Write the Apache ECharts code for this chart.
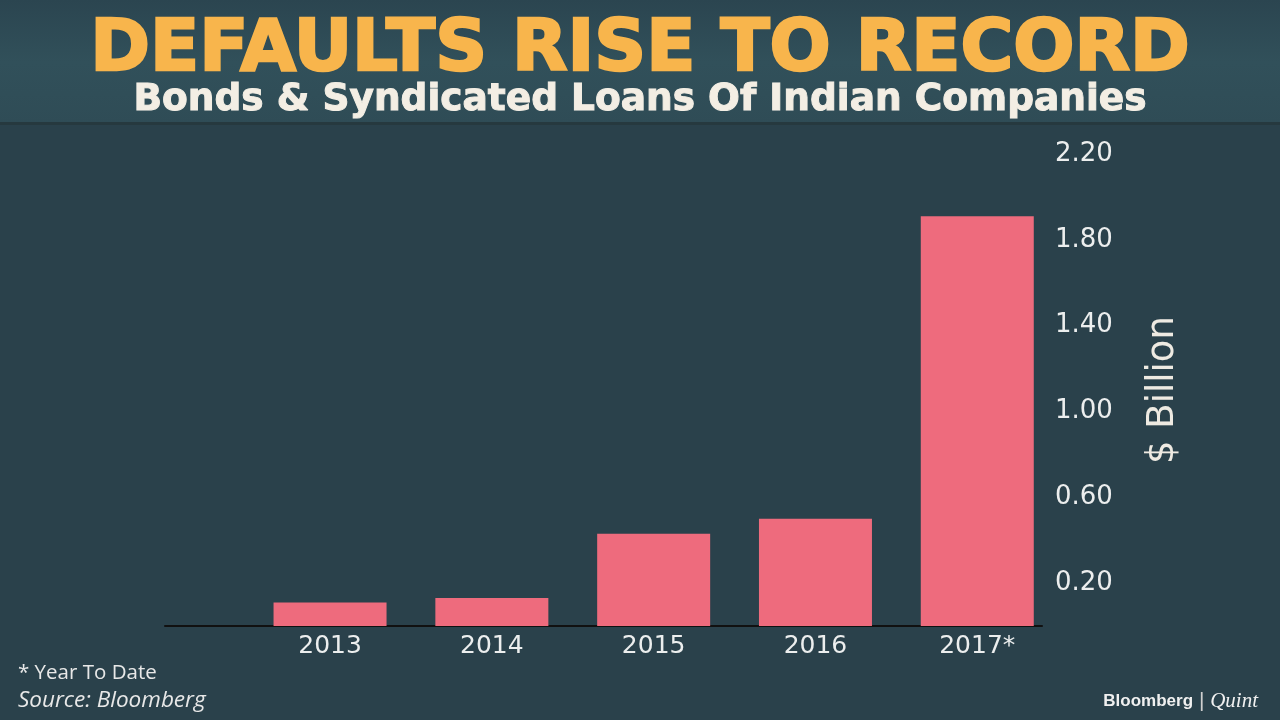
<!DOCTYPE html>
<html>
<head>
<meta charset="utf-8">
<script src="https://cdn.jsdelivr.net/npm/echarts@6/dist/echarts.min.js"></script>
<style>
html,body{margin:0;padding:0;background:#2a414b;}
#chart{width:1280px;height:720px;}
</style>
</head>
<body>
<div id="chart"></div>
<script>
const categories = ['2013', '2014', '2015', '2016', '2017*'];
const years = [2013, 2014, 2015, 2016, 2017];
const values = [0.11, 0.13, 0.43, 0.50, 1.91];
const yTickLabels = [0.2, 0.6, 1.0, 1.4, 1.8, 2.2];

const chart = echarts.init(document.getElementById('chart'));
const seriesData = years.map((y, i) => [y, values[i]]);

chart.setOption({
  backgroundColor: '#2a414b',
  animation: false,
  graphic: [
    { type: 'rect', left: 0, top: 0, z: -10, shape: { width: 1280, height: 124 },
      style: { fill: new echarts.graphic.LinearGradient(0, 0, 0, 1, [
        { offset: 0, color: '#2b4550' }, { offset: 0.5, color: '#31505a' }, { offset: 1, color: '#2f4c56' }]) } },
    { type: 'rect', left: 0, top: 122, z: -9, shape: { width: 1280, height: 3 }, style: { fill: '#26393f' } },
    { type: 'text', left: 'center', top: 14, z: 10,
      style: { text: 'DEFAULTS RISE TO RECORD', fill: '#f8b54c', font: 'bold 72px "DejaVu Sans"',
        stroke: '#f8b54c', lineWidth: 2.5,
        shadowColor: 'rgba(0,0,0,0.55)', shadowBlur: 4, shadowOffsetX: 2, shadowOffsetY: 3 } },
    { type: 'text', left: 'center', top: 81, z: 10,
      style: { text: 'Bonds & Syndicated Loans Of Indian Companies', fill: '#f3eee4', font: 'bold 37.5px "DejaVu Sans"',
        stroke: '#f3eee4', lineWidth: 1,
        shadowColor: 'rgba(0,0,0,0.5)', shadowBlur: 3, shadowOffsetX: 1, shadowOffsetY: 2 } },
    { type: 'text', left: 18, top: 663,
      style: { text: '* Year To Date', fill: '#e8e8e8', font: '20.5px "Open Sans"' } },
    { type: 'text', left: 18, top: 689,
      style: { text: 'Source: Bloomberg', fill: '#e8e8e8', font: 'italic 22.5px "Open Sans"' } },
    { type: 'text', right: 22, top: 691,
      style: {
        text: '{a|Bloomberg}{b| | }{c|Quint}',
        rich: {
          a: { fill: '#f0f0f0', font: 'bold 17px "Liberation Sans"' },
          b: { fill: '#cfcfcf', font: '21px "Liberation Sans"' },
          c: { fill: '#f0f0f0', font: 'italic 21px "Liberation Serif"' }
        }
      } }
  ],
  grid: { left: 165, right: 238, top: 154, bottom: 94 },
  xAxis: {
    type: 'value',
    min: 2011.98,
    max: 2017.4,
    axisLine: { show: true, onZero: false, lineStyle: { color: '#111', width: 2 } },
    axisTick: { show: false },
    splitLine: { show: false },
    axisLabel: {
      customValues: years,
      margin: 8,
      color: '#eceeee',
      fontSize: 25,
      fontFamily: 'DejaVu Sans',
      formatter: v => categories[years.indexOf(Math.round(v))] || ''
    }
  },
  yAxis: {
    type: 'value',
    position: 'right',
    min: 0,
    max: 2.2,
    axisLine: { show: false },
    axisTick: { show: false },
    splitLine: { show: false },
    name: '$ Billion',
    nameLocation: 'middle',
    nameRotate: 90,
    nameGap: 103,
    nameTextStyle: { color: '#eeeae2', fontSize: 37, fontFamily: 'DejaVu Sans' },
    axisLabel: {
      customValues: yTickLabels,
      margin: 13,
      color: '#eceeee',
      fontSize: 26,
      fontFamily: 'DejaVu Sans',
      formatter: v => v.toFixed(2)
    }
  },
  series: [{
    type: 'bar',
    data: seriesData,
    barWidth: 113,
    itemStyle: { color: '#ee6b7d' }
  }]
});
</script>
</body>
</html>
